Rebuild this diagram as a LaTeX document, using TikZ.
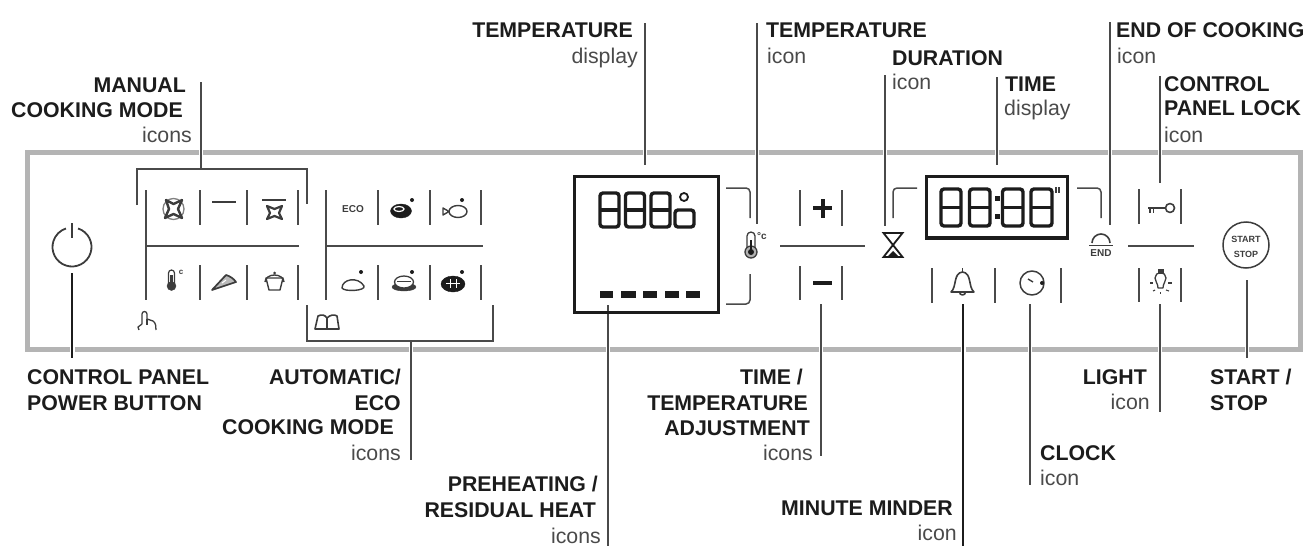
\documentclass[tikz,border=0pt]{standalone}
\usepackage{fontspec}
\setmainfont{Liberation Sans}
\definecolor{panelgray}{HTML}{B4B4B4}
\definecolor{inkdark}{HTML}{1C1C1C}
\definecolor{inksoft}{HTML}{3C3C3C}
\definecolor{linegray}{HTML}{4A4A4A}
\tikzset{
  titlelbl/.style={font=\fontsize{21.3}{21.3}\selectfont\bfseries,text=inkdark,inner sep=0pt},
  sublbl/.style={font=\fontsize{21.3}{21.3}\selectfont,text=linegray,inner sep=0pt},
  leader/.style={draw=linegray,line width=1.3pt,preaction={draw=white,line width=4pt}},
  boldleader/.style={draw=inkdark,line width=2pt,preaction={draw=white,line width=5pt}},
  divider/.style={draw=linegray,line width=1.4pt},
  bracket/.style={draw=linegray,line width=1.5pt,rounded corners=4pt},
  screen/.style={draw=inkdark,line width=3.2pt},
  seg/.style={draw=inkdark,line width=3.4pt,rounded corners=3pt},
  glyph/.style={draw=inksoft,line width=1.3pt,line join=round},
  tinylbl/.style={font=\fontsize{8}{8}\selectfont\bfseries,text=inksoft,inner sep=0pt}
}
\begin{document}
\begin{tikzpicture}[x=1pt,y=-1pt]
\useasboundingbox (0,0) rectangle (1312,546);

% panel
\draw [panelgray,line width=5pt] (27.5,152.5) rectangle (1300.5,349.5);

% leaders
\coordinate (manualtop) at (201,82);
\coordinate (manualend) at (201,169);
\draw [leader] (manualtop) -- (manualend);
\coordinate (tempdisptop) at (645,23);
\coordinate (tempdispend) at (645,165);
\draw [leader] (tempdisptop) -- (tempdispend);
\coordinate (tempicontop) at (757,23);
\coordinate (tempiconend) at (757,224);
\draw [leader] (tempicontop) -- (tempiconend);
\coordinate (durationtop) at (885,75);
\coordinate (durationend) at (885,226);
\draw [leader] (durationtop) -- (durationend);
\coordinate (timetop) at (997,77);
\coordinate (timeend) at (997,165);
\draw [leader] (timetop) -- (timeend);
\coordinate (endtop) at (1110,22);
\coordinate (endend) at (1110,225);
\draw [leader] (endtop) -- (endend);
\coordinate (locktop) at (1160,76);
\coordinate (lockend) at (1160,183);
\draw [leader] (locktop) -- (lockend);
\coordinate (powertop) at (72,273);
\coordinate (powerend) at (72,358);
\draw [boldleader] (powertop) -- (powerend);
\coordinate (autotop) at (411,341);
\coordinate (autoend) at (411,460);
\draw [leader] (autotop) -- (autoend);
\coordinate (preheattop) at (608,305);
\coordinate (preheatend) at (608,546);
\draw [leader] (preheattop) -- (preheatend);
\coordinate (adjusttop) at (821,304);
\coordinate (adjustend) at (821,456);
\draw [leader] (adjusttop) -- (adjustend);
\coordinate (mindertop) at (963,304);
\coordinate (minderend) at (963,546);
\draw [boldleader] (mindertop) -- (minderend);
\coordinate (clocktop) at (1030,304);
\coordinate (clockend) at (1030,485);
\draw [leader] (clocktop) -- (clockend);
\coordinate (lighttop) at (1160,304);
\coordinate (lightend) at (1160,412);
\draw [leader] (lighttop) -- (lightend);
\coordinate (starttop) at (1247,280);
\coordinate (startend) at (1247,358);
\draw [leader] (starttop) -- (startend);

% power button
\draw [inksoft,line width=1.8pt] (72,247) ++(-72:19.5) arc (-72:252:19.5);
\draw [inksoft,line width=1.8pt] (72,223) -- (72,238);

% manual cooking mode
\draw [bracket,rounded corners=0pt] (137,205) -- (137,169) -- (307,169) -- (307,204);
\draw [divider] (146,190) -- (146,300);
\draw [divider] (200,190) -- (200,225);
\draw [divider] (247,190) -- (247,225);
\draw [divider] (298,190) -- (298,225);
\draw [divider] (146,246) -- (299,246);
\draw [divider] (200,265) -- (200,300);
\draw [divider] (247,265) -- (247,300);
\draw [divider] (298,265) -- (298,300);

\draw [glyph,draw=gray] (173.5,209) circle (10.5);
\draw [glyph,fill=white,line width=2.4pt] (166,200) -- (173.5,204) -- (182,200) -- (178,209) -- (182,218) -- (173.5,214) -- (165,218) -- (169,209) -- cycle;
\draw [glyph,line width=1.6pt] (212,202) -- (236,202);
\draw [glyph,line width=1.4pt] (262,200) -- (286,200);
\draw [glyph,fill=white,line width=2.2pt] (267,206) -- (274.5,209) -- (282,206) -- (279,213) -- (282,219) -- (274.5,216) -- (267,219) -- (270,213) -- cycle;

\draw [glyph,line width=1.2pt] (168.5,273) arc (180:360:3) -- (174.5,284) -- (168.5,284) -- cycle;
\draw [inksoft,fill=inksoft] (171.5,286) circle (4.5);
\fill [inksoft] (170,275) rectangle (173,285);
\node (manualdeg) [tinylbl] at (181,272) {c};
\draw [glyph,fill=gray!55,line width=1.7pt] (212,290) -- (226,275) .. controls (230,276) and (234,279) .. (236,282) -- cycle;
\draw [white,line width=1pt] (222,283) -- (226,280);
\draw [glyph,line width=1.4pt] (266,278) -- (283,278) -- (280,290) -- (269,290) -- cycle;
\draw [glyph,line width=1.4pt] (265,282) arc (180:360:9.5 and 7);
\fill [inksoft] (274.5,273) circle (1.5);

% hand
\draw [glyph] (142,324) -- (142,314) arc (180:360:2.5) -- (147,319) -- (153,321) .. controls (156,323) and (156,327) .. (156,330);
\draw [glyph] (142,324) -- (138,327) -- (139,330);
\draw [glyph] (147,319) -- (147,325);

% automatic cooking mode
\draw [bracket,rounded corners=0pt] (307,305) -- (307,341) -- (493,341) -- (493,305);
\draw [divider] (326,190) -- (326,300);
\draw [divider] (378,190) -- (378,225);
\draw [divider] (430,190) -- (430,225);
\draw [divider] (481,190) -- (481,225);
\draw [divider] (326,246) -- (483,246);
\draw [divider] (378,265) -- (378,300);
\draw [divider] (430,265) -- (430,300);
\draw [divider] (481,265) -- (481,300);

\node (ecoicon) [tinylbl,font=\fontsize{10}{10}\selectfont\bfseries] at (353,209) {ECO};
\draw [inkdark,fill=inkdark] (401,211) ellipse (10.5 and 7);
\draw [white,line width=1.2pt] (399,209) ellipse (5 and 2.5);
\fill [inkdark] (412,200) circle (2);
\draw [glyph,line width=1.4pt] (458,211.5) ellipse (9 and 6);
\draw [glyph,line width=1.4pt] (443,208) -- (449,211.5) -- (443,215) -- cycle;
\fill [inkdark] (462,200) circle (2);
\draw [glyph,line width=1.4pt] (342,288) .. controls (342,279) and (358,276) .. (364,286) .. controls (366,291) and (344,292) .. (342,288) -- cycle;
\fill [inkdark] (361,272) circle (2);
\draw [inksoft,fill=inksoft] (404,287) ellipse (12 and 4);
\draw [glyph,fill=white] (404,282) ellipse (9.5 and 6);
\draw [inksoft,line width=.8pt] (397,281) -- (411,281);
\fill [inkdark] (412,272) circle (2);
\draw [inkdark,fill=inkdark] (453,284) ellipse (12 and 8);
\draw [white,line width=1pt] (446,283) -- (460,283);
\draw [white,line width=1pt] (450,279) -- (450,288);
\draw [white,line width=1pt] (456,279) -- (456,288);
\fill [inkdark] (462,272) circle (2);

% book
\draw [glyph,line width=1.6pt] (315,329) -- (318,316) .. controls (322,314) and (325,315) .. (327,318) .. controls (330,315) and (334,314) .. (337,316) -- (339,329) -- cycle;
\draw [glyph] (327,318) -- (327,328);

% temperature display
\draw [screen] (574.5,176.5) rectangle (718.5,312.5);
\draw [seg] (600,193) rectangle (619,227);
\draw [seg,rounded corners=0pt] (600,210) -- (619,210);
\draw [seg] (625.5,193) rectangle (644.5,227);
\draw [seg,rounded corners=0pt] (625.5,210) -- (644.5,210);
\draw [seg] (651,193) rectangle (670,227);
\draw [seg,rounded corners=0pt] (651,210) -- (670,210);
\draw [seg] (675,210) rectangle (694,227);
\draw [seg,line width=1.8pt] (684,197) circle (4);
\fill [inkdark] (600,291) rectangle (613,298);
\fill [inkdark] (621,291) rectangle (636,298);
\fill [inkdark] (643,291) rectangle (657,298);
\fill [inkdark] (665,291) rectangle (679,298);
\fill [inkdark] (686,291) rectangle (700,298);
\draw [bracket] (726,188) -- (750,188) -- (750,218);
\draw [bracket] (750,274) -- (750,304) -- (726,304);

% thermometer
\draw [glyph,line width=1.3pt] (747,236) arc (180:360:4) -- (755,248) -- (747,248) -- cycle;
\draw [glyph,fill=gray!60] (751,252) circle (6);
\fill [inkdark] (751,252) circle (3);
\fill [inkdark] (750,240) rectangle (752,250);
\node (tempdeg) [tinylbl,font=\fontsize{10}{10}\selectfont\bfseries] at (762,236) {°c};

% plus minus
\draw [divider] (800,190) -- (800,226);
\draw [divider] (842,190) -- (842,226);
\draw [divider] (780,246) -- (865,246);
\draw [divider] (800,266) -- (800,300);
\draw [divider] (842,266) -- (842,300);
\draw [inkdark,line width=4pt] (813,208) -- (832,208);
\draw [inkdark,line width=4pt] (822.5,199) -- (822.5,218);
\draw [inkdark,line width=4pt] (813,283) -- (832,283);

% hourglass
\draw [inkdark,line width=1.8pt,line join=miter] (883.5,233) -- (902.5,233) -- (883.5,257) -- (902.5,257) -- cycle;
\fill [inkdark] (893,251) -- (899,257) -- (887,257) -- cycle;
\draw [bracket] (917,188) -- (893,188) -- (893,218);

% time display
\draw [screen] (926.5,176.5) rectangle (1067.5,238);
\draw [seg] (941,189) rectangle (961,226);
\draw [seg,rounded corners=0pt] (941,207.5) -- (961,207.5);
\draw [seg] (969.5,189) rectangle (990,226);
\draw [seg,rounded corners=0pt] (969.5,207.5) -- (990,207.5);
\fill [inkdark] (994.5,195.5) rectangle (999.5,200.5);
\fill [inkdark] (994.5,213.5) rectangle (999.5,218.5);
\draw [seg] (1002.5,189) rectangle (1023,226);
\draw [seg,rounded corners=0pt] (1002.5,207.5) -- (1023,207.5);
\draw [seg] (1031,189) rectangle (1052,226);
\draw [seg,rounded corners=0pt] (1031,207.5) -- (1052,207.5);
\draw [inksoft,line width=1.2pt] (1056,187) -- (1056,193);
\draw [inksoft,line width=1.2pt] (1059,187) -- (1059,193);
\draw [bracket] (1077,188) -- (1101,188) -- (1101,218);

% end icon
\draw [glyph,line width=1.6pt] (1092,243) arc (180:360:9);
\draw [glyph,line width=1.8pt] (1089,245.5) -- (1113,245.5);
\node (endicon) [tinylbl,font=\fontsize{10}{10}\selectfont\bfseries] at (1101,253.5) {END};

% bell and clock
\draw [divider] (932,268) -- (932,303);
\draw [divider] (995,268) -- (995,303);
\draw [divider] (1061,268) -- (1061,303);
\draw [glyph,line width=1.6pt] (951,292) .. controls (957,287) and (953,273) .. (962.5,272) .. controls (972,273) and (968,287) .. (974,292) -- cycle;
\draw [glyph,line width=1.6pt] (959.5,292) arc (180:0:3);
\draw [glyph,line width=1.6pt] (962.5,268) -- (962.5,272);
\draw [glyph,line width=1.5pt] (1032,283) circle (12);
\draw [glyph,line width=1.4pt] (1028,279) -- (1033,282);
\fill [inkdark] (1042,283) circle (2);

% lock and light
\draw [divider] (1139,189) -- (1139,224);
\draw [divider] (1181,189) -- (1181,224);
\draw [divider] (1128,246) -- (1194,246);
\draw [divider] (1139,268) -- (1139,302);
\draw [divider] (1181,268) -- (1181,302);
\draw [glyph,line width=1.6pt] (1170,208) circle (4.5);
\draw [inksoft,line width=1.9pt] (1148,208) -- (1165.5,208);
\draw [inksoft,line width=1.5pt] (1150,208) -- (1150,213);
\draw [inksoft,line width=1.5pt] (1153.5,208) -- (1153.5,213);
\draw [glyph] (1158,288) .. controls (1158,283) and (1155,282) .. (1155,278) arc (180:360:5.5) .. controls (1166,282) and (1163,283) .. (1163,288) -- cycle;
\fill [inksoft] (1157.5,269) rectangle (1163.5,274);
\draw [inksoft,line width=1.1pt] (1150,283) -- (1153,283);
\draw [inksoft,line width=1.1pt] (1168,283) -- (1172,283);
\draw [inksoft,line width=1.1pt] (1153,291) -- (1155,290);
\draw [inksoft,line width=1.1pt] (1166,290) -- (1169,291);
\draw [inksoft,line width=1.1pt] (1160.5,292) -- (1160.5,294);

% start stop
\draw [inksoft,line width=1.5pt] (1246,245) circle (23);
\node (startword) [tinylbl,font=\fontsize{9}{9}\selectfont\bfseries] at (1246,239) {START};
\node (stopword) [tinylbl,font=\fontsize{9}{9}\selectfont\bfseries] at (1246,254) {STOP};

% labels
\node (manualA) [titlelbl,anchor=base east] at (186,92) {MANUAL};
\node (manualB) [titlelbl,anchor=base east] at (183,117) {COOKING MODE};
\node (manualC) [sublbl,anchor=base east] at (192,142) {icons};
\node (tempdispA) [titlelbl,anchor=base east] at (633,37) {TEMPERATURE};
\node (tempdispB) [sublbl,anchor=base east] at (638,63) {display};
\node (tempiconA) [titlelbl,anchor=base west] at (766,37) {TEMPERATURE};
\node (tempiconB) [sublbl,anchor=base west] at (767,63) {icon};
\node (durationA) [titlelbl,anchor=base west] at (892,65) {DURATION};
\node (durationB) [sublbl,anchor=base west] at (892,89) {icon};
\node (timeA) [titlelbl,anchor=base west] at (1005,91) {TIME};
\node (timeB) [sublbl,anchor=base west] at (1004,115) {display};
\node (endA) [titlelbl,anchor=base west] at (1116,37) {END OF COOKING};
\node (endB) [sublbl,anchor=base west] at (1117,63) {icon};
\node (lockA) [titlelbl,anchor=base west] at (1164,91) {CONTROL};
\node (lockB) [titlelbl,anchor=base west] at (1164,115) {PANEL LOCK};
\node (lockC) [sublbl,anchor=base west] at (1164,142) {icon};
\node (powerA) [titlelbl,anchor=base west] at (27,384) {CONTROL PANEL};
\node (powerB) [titlelbl,anchor=base west] at (27,410) {POWER BUTTON};
\node (autoA) [titlelbl,anchor=base east] at (401,384) {AUTOMATIC/};
\node (autoB) [titlelbl,anchor=base east] at (401,410) {ECO};
\node (autoC) [titlelbl,anchor=base east] at (394,434) {COOKING MODE};
\node (autoD) [sublbl,anchor=base east] at (401,460) {icons};
\node (preheatA) [titlelbl,anchor=base east] at (598,491) {PREHEATING /};
\node (preheatB) [titlelbl,anchor=base east] at (596,517) {RESIDUAL HEAT};
\node (preheatC) [sublbl,anchor=base east] at (601,543) {icons};
\node (adjustA) [titlelbl,anchor=base east] at (803,384) {TIME /};
\node (adjustB) [titlelbl,anchor=base east] at (808,410) {TEMPERATURE};
\node (adjustC) [titlelbl,anchor=base east] at (810,435) {ADJUSTMENT};
\node (adjustD) [sublbl,anchor=base east] at (813,460) {icons};
\node (minderA) [titlelbl,anchor=base east] at (953,515) {MINUTE MINDER};
\node (minderB) [sublbl,anchor=base east] at (957,540) {icon};
\node (clockA) [titlelbl,anchor=base west] at (1040,460) {CLOCK};
\node (clockB) [sublbl,anchor=base west] at (1040,485) {icon};
\node (lightA) [titlelbl,anchor=base east] at (1147,384) {LIGHT};
\node (lightB) [sublbl,anchor=base east] at (1150,409) {icon};
\node (startA) [titlelbl,anchor=base west] at (1210,384) {START /};
\node (startB) [titlelbl,anchor=base west] at (1210,410) {STOP};

\end{tikzpicture}
\end{document}
